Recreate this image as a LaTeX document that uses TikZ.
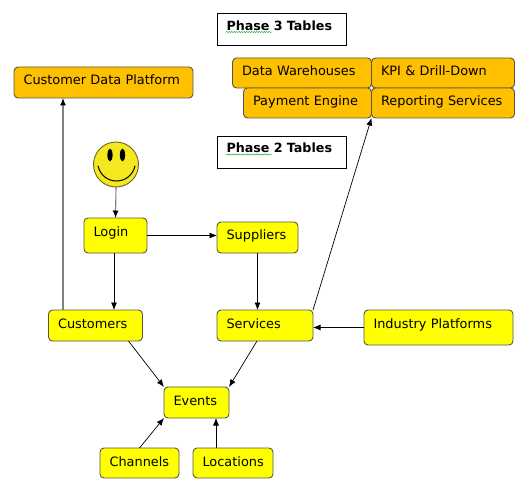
\documentclass[tikz,border=0pt]{standalone}
\usepackage{fontspec}
\setmainfont{DejaVu Sans}
\usetikzlibrary{arrows.meta,decorations.pathmorphing}
\definecolor{tableyellow}{RGB}{255,255,0}
\definecolor{tableorange}{RGB}{255,192,0}
\definecolor{smileyellow}{RGB}{245,232,30}
\tikzset{
  tablebox/.style 2 args={draw=black!75!yellow, line width=0.9pt, rounded corners=4pt, anchor=north west,
    inner xsep=9.5pt, inner ysep=0pt, outer sep=0pt, align=left, font=\fontsize{12.9}{14}\selectfont,
    text width=#1pt-19pt, text height=18pt, text depth=#2pt-18pt},
  yellowbox/.style 2 args={tablebox={#1}{#2}, fill=tableyellow},
  orangebox/.style 2 args={tablebox={#1}{#2}, fill=tableorange},
  phasebox/.style={draw=black, line width=0.7pt, anchor=north west, inner xsep=9.5pt, inner ysep=0pt, outer sep=0pt,
    align=left, font=\fontsize{12.7}{14}\selectfont\bfseries, text width=110pt, text height=17pt, text depth=15pt},
  flow/.style={-{Latex[length=7.5pt,width=6pt,black]}, line width=0.7pt, black},
  greyflow/.style={flow, line width=1.1pt, black!50}
}
\begin{document}
\begin{tikzpicture}[x=1pt,y=-1pt]
    \useasboundingbox (0,0) rectangle (531,495);

    % Phase labels
    \node[phasebox] (phasethree) at (217,13.5) {Phase 3 Tables};
    \node[phasebox] (phasetwo) at (217,136) {Phase 2 Tables};
    \draw[green!55!black, line width=0.4pt, decorate, decoration={snake,amplitude=0.5pt,segment length=2.5pt}] (226,32) -- (272,32);
    \draw[green!55!black, line width=0.4pt, decorate, decoration={snake,amplitude=0.5pt,segment length=2.5pt}] (226,154.5) -- (272,154.5);

    % Phase 3 tables
    \node[orangebox={179}{31}] (cdp) at (14,67) {Customer Data Platform};
    \node[orangebox={139}{30}] (warehouses) at (232.5,58) {Data Warehouses};
    \node[orangebox={128}{30}] (payment) at (243.5,88) {Payment Engine};
    \node[orangebox={143}{30}] (kpi) at (371.5,58) {KPI \& Drill-Down};
    \node[orangebox={143}{30}] (reporting) at (371.5,88) {Reporting Services};

    % Smiley
    \node[circle, draw=olive!70!black, fill=smileyellow, line width=0.9pt, minimum size=45pt, inner sep=0pt, outer sep=0pt] (smiley) at (116,164.5) {};
    \fill (110,155) ellipse (2.6 and 6.5);
    \fill (122.5,155) ellipse (2.6 and 6.5);
    \draw[line width=1pt, line cap=round] (98,166) .. controls (103,186) and (130,186) .. (135,166);

    % Phase 2 tables
    \node[yellowbox={63}{35}] (login) at (84,218) {Login};
    \node[yellowbox={81}{31}] (suppliers) at (217,222) {Suppliers};
    \node[yellowbox={94}{31}] (customers) at (48.5,310) {Customers};
    \node[yellowbox={96}{31}] (services) at (217,310) {Services};
    \node[yellowbox={149}{35}] (industry) at (364,310) {Industry Platforms};
    \node[yellowbox={65}{31}] (events) at (164,387) {Events};
    \node[yellowbox={79}{30}] (channels) at (100,448) {Channels};
    \node[yellowbox={80}{30}] (locations) at (193,448) {Locations};

    % Connectors
    \draw[greyflow] ([xshift=14.5pt]customers.north west) -- ([xshift=14.5pt]customers.north west |- cdp.south);
    \draw[greyflow] (smiley.south) -- (login.north);
    \draw[flow] (login.east) -- (login.east -| suppliers.west);
    \draw[flow] ([xshift=30pt]login.south west) -- ([xshift=65.5pt]customers.north west);
    \draw[flow] (suppliers.south) -- (suppliers.south |- services.north);
    \draw[flow] (services.north east) -- (reporting.south west);
    \draw[flow] (industry.west) -- (industry.west -| services.east);
    \draw[flow] ([xshift=-14pt]customers.south east) -- (events.north west);
    \draw[flow] ([xshift=-8pt]services.south) -- (events.north east);
    \draw[flow] (channels.north) -- (events.south west);
    \draw[flow] ([xshift=23pt]locations.north west) -- ([xshift=52pt]events.south west);
\end{tikzpicture}
\end{document}
